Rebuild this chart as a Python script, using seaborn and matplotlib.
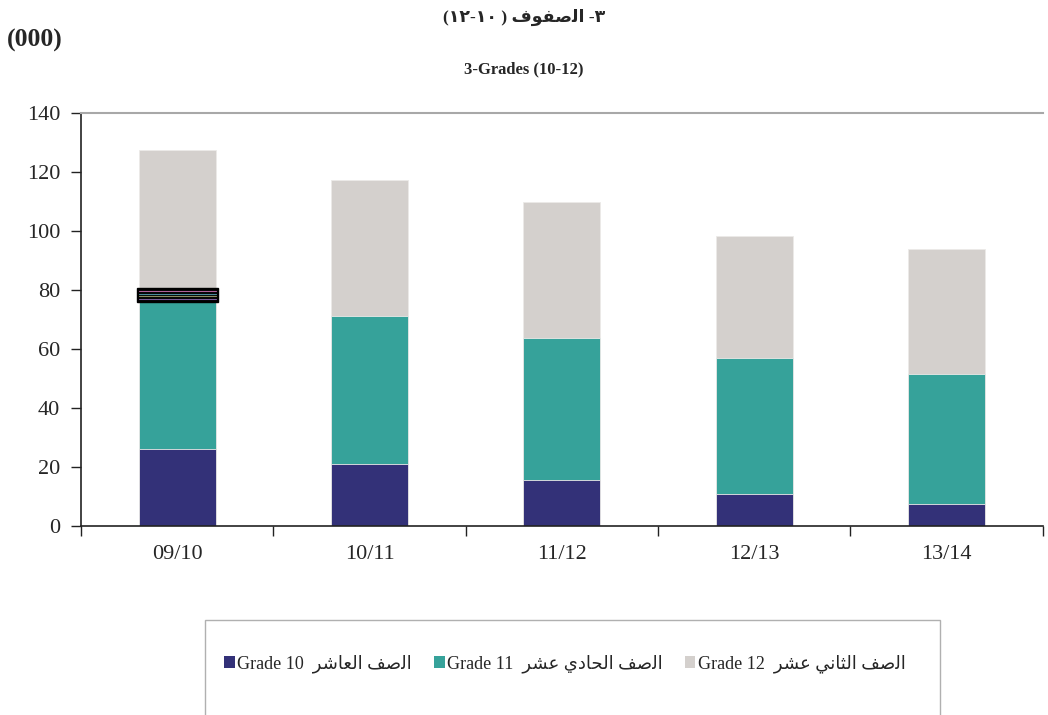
import matplotlib
matplotlib.use("Agg")
import matplotlib.pyplot as plt
from matplotlib.patches import Patch, Rectangle
import seaborn as sns
import pandas as pd

# Enrolment in grades 10-12 (thousands) by school year
years = ["09/10", "10/11", "11/12", "12/13", "13/14"]
grade10 = [26.1, 21.1, 15.6, 10.8, 7.6]
grade11 = [52.2, 50.2, 48.1, 46.1, 43.9]
grade12 = [49.1, 46.1, 46.0, 41.4, 42.4]

# Arabic strings written in presentation forms, in left-to-right visual order
ar_sufuf = "\uFED1\uFEEE\uFED4\uFEBB\uFEDF\uFE8D"       # الصفوف
ar_title = "(\u0661\u0662-\u0661\u0660 ) " + ar_sufuf + " -\u0663"
ar_saff = "\uFED2\uFEBB\uFEDF\uFE8D"                    # الصف
ar_ashir = "\uFEAE\uFEB7\uFE8E\uFECC\uFEDF\uFE8D"       # العاشر
ar_hadi = "\uFEF1\uFEA9\uFE8E\uFEA4\uFEDF\uFE8D"        # الحادي
ar_thani = "\uFEF2\uFEE7\uFE8E\uFE9C\uFEDF\uFE8D"       # الثاني
ar_ashar = "\uFEAE\uFEB8\uFECB"                         # عشر
labels = [
    "Grade 10  " + ar_ashir + " " + ar_saff,
    "Grade 11  " + ar_ashar + " " + ar_hadi + " " + ar_saff,
    "Grade 12  " + ar_ashar + " " + ar_thani + " " + ar_saff,
]
colors = ["#333178", "#36A29A", "#D4D0CD"]

df = pd.DataFrame({"year": years, "g10": grade10, "g11": grade11, "g12": grade12})
df["c2"] = df["g10"] + df["g11"]
df["c3"] = df["c2"] + df["g12"]

sns.set_style("white")
plt.rcParams["font.family"] = ["Liberation Serif", "DejaVu Sans"]

fig = plt.figure(figsize=(10.48, 7.15), dpi=100)
ax = fig.add_axes([0.0773, 0.2643, 0.9177, 0.5777])

# stacked bars: draw cumulative totals back to front
for col, c in [("c3", colors[2]), ("c2", colors[1]), ("g10", colors[0])]:
    sns.barplot(data=df, x="year", y=col, color=c, width=0.4, ax=ax,
                saturation=1, edgecolor="#ECEAE8", linewidth=0.6)

# dark marker band on the first bar at the grade 11 / grade 12 boundary
top = df["c2"].iloc[0]
ax.add_patch(Rectangle((-0.21, top - 2.3), 0.42, 4.6, facecolor="black",
                       edgecolor="black", zorder=5))
for k, lc in enumerate(["#B0609A", "#4A8A9A", "#8A8A60", "#7A5A9A"]):
    ax.plot([-0.2, 0.2], [top + 1.5 - k * 1.0] * 2, color=lc, lw=0.8, zorder=6)

ax.set_xlim(-0.5, 4.5)
ax.set_ylim(0, 140)
ax.set_yticks(range(0, 141, 20))
ax.set_xlabel("")
ax.set_ylabel("")
ax.set_xticks([i - 0.5 for i in range(6)], minor=False)
ax.set_xticklabels([])
ax.set_xticks(range(5), minor=True)
ax.set_xticklabels(years, minor=True, fontsize=16)
ax.tick_params(axis="x", which="minor", length=0, pad=14)
ax.tick_params(axis="x", which="major", direction="out", length=7, width=1,
               color="#222222", bottom=True)
ax.tick_params(axis="y", direction="out", length=7, width=1, color="#222222",
               labelsize=16, left=True, pad=8)
for s in ["left", "bottom"]:
    ax.spines[s].set_color("#222222")
    ax.spines[s].set_linewidth(1.2)
ax.spines["top"].set_color("#A8A8A8")
ax.spines["top"].set_linewidth(1.5)
ax.spines["right"].set_visible(False)

# titles
fig.text(0.5, 0.976, ar_title, ha="center", va="center", fontsize=12.5,
         fontweight="bold")
fig.text(0.5, 0.903, "3-Grades (10-12)", ha="center", va="center",
         fontsize=12, fontweight="bold")
fig.text(0.007, 0.943, "(000)", ha="left", va="center", fontsize=18.5,
         fontweight="bold")

# legend with open-bottom frame
fig.patches.append(Rectangle((0.1956, -0.05), 0.701, 0.183,
                             transform=fig.transFigure, facecolor="none",
                             edgecolor="#B0B0B0", linewidth=1.0))
handles = [Patch(facecolor=c, edgecolor="none") for c in colors]
fig.legend(handles, labels, loc="center", bbox_to_anchor=(0.539, 0.072),
           ncol=3, frameon=False, fontsize=13, handlelength=0.6,
           handleheight=0.6, handletextpad=0.15, columnspacing=1.2)

fig.savefig("out.png", dpi=100)
